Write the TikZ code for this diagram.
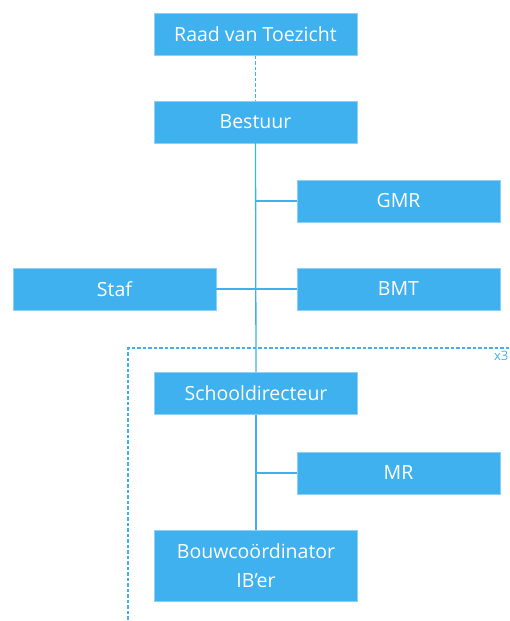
\documentclass[tikz,border=0pt]{standalone}
\usepackage{fontspec}
\setmainfont{Open Sans}
\definecolor{boxblue}{HTML}{3FB1EF}
\begin{document}
\begin{tikzpicture}[x=1pt,y=-1pt,
  orgbox/.style={fill=boxblue,draw=boxblue!60!white,line width=0.4pt,text=white,minimum width=203pt,minimum height=42pt,inner sep=0pt,font=\fontsize{19.5}{29}\selectfont,align=center},
  link/.style={draw=boxblue,line width=1.3pt},
  dlink/.style={draw=boxblue,line width=1.2pt,dash pattern=on 3.5pt off 2pt}]
\useasboundingbox (0,0) rectangle (509,621);
\node[orgbox] (rvt) at (255.5,34.5) {Raad van Toezicht};
\node[orgbox] (bes) at (255.5,122) {Bestuur};
\node[orgbox] (gmr) at (398.5,201) {GMR};
\node[orgbox] (staf) at (114.5,289) {Staf};
\node[orgbox] (bmt) at (398.5,289) {BMT};
\node[orgbox] (sd) at (256,393.5) {Schooldirecteur};
\node[orgbox] (mr) at (398.5,473) {MR};
\node[orgbox,minimum height=71pt] (bc) at (256,565.5) {Bouwcoördinator\\IB’er};
\draw[dlink] (rvt.south) -- (bes.north);
\draw[link] (bes.south) -- (sd.north);
\coordinate (j1) at (bes.south |- gmr.west);
\coordinate (j2) at (bes.south |- bmt.west);
\coordinate (j3) at (sd.south |- mr.west);
\draw[link] (j1) -- (gmr.west);
\draw[link] (staf.east) -- (bmt.west);
\draw[link] (sd.south) -- (bc.north);
\draw[link] (j3) -- (mr.west);
\coordinate (dbl) at (128,625);
\coordinate (dtl) at (128,348);
\coordinate (dtr) at (515,348);
\draw[dlink] (dbl) -- (dtl) -- (dtr);
\node[text=boxblue,anchor=east,font=\fontsize{13}{15}\selectfont,inner sep=0pt] (x3) at (508.5,356) {x3};
\end{tikzpicture}
\end{document}
